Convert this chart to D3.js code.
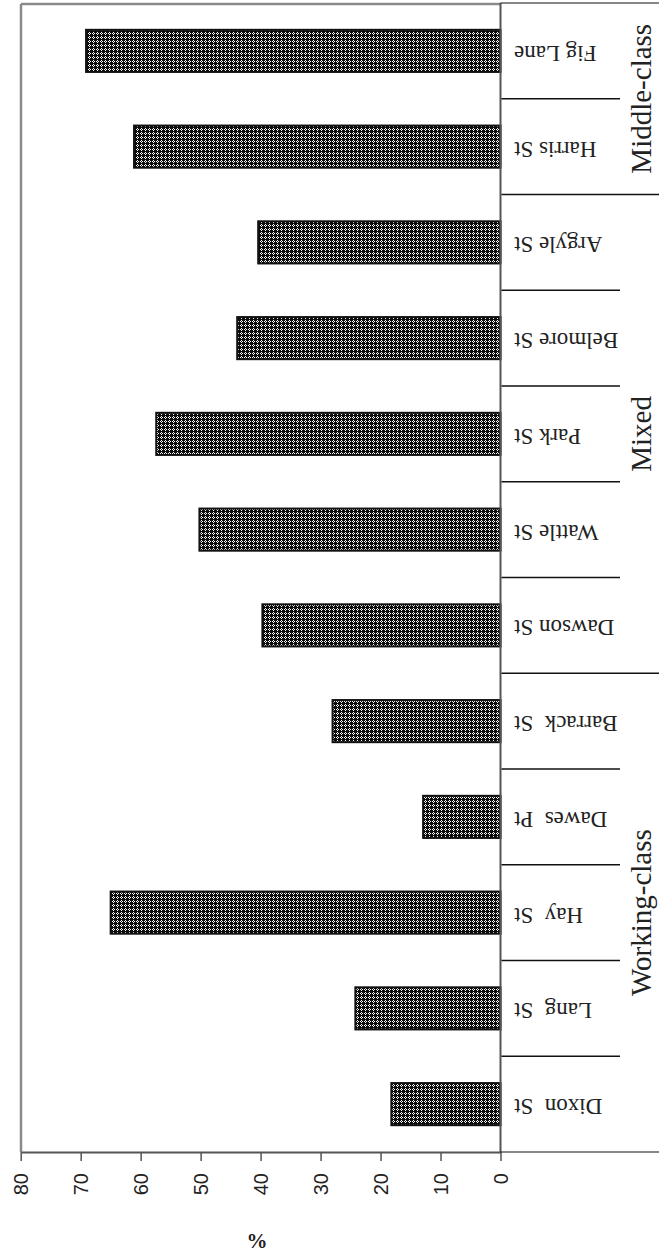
<!DOCTYPE html>
<html>
<head>
<meta charset="utf-8">
<script src="https://cdn.jsdelivr.net/npm/d3@7"></script>
<style>
  html, body { margin: 0; padding: 0; background: #fff; }
  svg { display: block; }
  text { white-space: pre; }
</style>
</head>
<body>
<svg id="chart" width="659" height="1258"></svg>
<script>
// ---- data ----
const categories = ["Fig Lane", "Harris St", "Argyle St", "Belmore St", "Park St", "Wattle St",
                    "Dawson St", "Barrack  St", "Dawes  Pt", "Hay  St", "Lang  St", "Dixon  St"];
const values = [69.1, 61.1, 40.4, 43.9, 57.4, 50.2, 39.7, 28.0, 12.9, 65.0, 24.2, 18.2];
const groupNames = ["Middle-class", "Mixed", "Working-class"];
const groupSizes = [2, 5, 5];
const tickValues = [0, 10, 20, 30, 40, 50, 60, 70, 80];
const unitLabel = "%";

// ---- layout ----
const svg = d3.select("#chart");
const plotLeft = 21, plotTop = 3, axisX = 500.5, axisY = 1152;

const x = d3.scaleLinear().domain([0, 80]).range([axisX, 20.7]);
const y = d3.scaleBand().domain(categories).range([plotTop, axisY])
  .paddingInner(0.56).paddingOuter(0.28);
const step = y.step();

// pattern
const defs = svg.append("defs");
const pat = defs.append("pattern").attr("id", "dots")
  .attr("width", 4).attr("height", 4).attr("patternUnits", "userSpaceOnUse");
pat.append("rect").attr("width", 4).attr("height", 4).attr("fill", "#0d0d0d");
[[1,0],[0,1],[2,1],[1,2]].forEach(([px,py]) =>
  pat.append("rect").attr("x", px).attr("y", py).attr("width", 1).attr("height", 1).attr("fill", "#fff"));

// plot frame (gray)
svg.append("line").attr("x1", plotLeft).attr("x2", plotLeft).attr("y1", plotTop + 1).attr("y2", axisY)
  .attr("stroke", "#8a8a8a").attr("stroke-width", 2.5);
svg.append("line").attr("x1", plotLeft).attr("x2", axisX).attr("y1", plotTop + 1).attr("y2", plotTop + 1)
  .attr("stroke", "#8a8a8a").attr("stroke-width", 2.5);

// bars
svg.append("g").selectAll("rect").data(categories).join("rect")
  .attr("x", (d, i) => x(values[i]))
  .attr("y", d => y(d))
  .attr("width", (d, i) => x(0) - x(values[i]))
  .attr("height", y.bandwidth())
  .attr("fill", "url(#dots)")
  .attr("stroke", "#111").attr("stroke-width", 2);

// category axis line (vertical at zero)
svg.append("line").attr("x1", axisX).attr("x2", axisX).attr("y1", plotTop).attr("y2", axisY)
  .attr("stroke", "#555").attr("stroke-width", 2);

// value axis
const xAxis = d3.axisBottom(x).tickValues(tickValues).tickSize(9).tickSizeOuter(0);
const gx = svg.append("g").attr("transform", `translate(0,${axisY})`).call(xAxis);
gx.select(".domain").attr("stroke", "#555").attr("stroke-width", 2);
gx.selectAll(".tick line").attr("stroke", "#555").attr("stroke-width", 1.5);
gx.selectAll(".tick text")
  .attr("font-family", "'Liberation Sans', Arial, sans-serif")
  .attr("font-size", 20).attr("fill", "#222")
  .attr("text-anchor", "end")
  .attr("y", 0).attr("dy", "0.35em")
  .attr("transform", "translate(0,21) rotate(-90)");

// extension lines of category area
svg.append("line").attr("x1", axisX).attr("x2", 659).attr("y1", axisY).attr("y2", axisY)
  .attr("stroke", "#111").attr("stroke-width", 1.2);
svg.append("line").attr("x1", axisX).attr("x2", 659).attr("y1", plotTop).attr("y2", plotTop)
  .attr("stroke", "#111").attr("stroke-width", 1.2);

// category dividers
const groupStarts = [];
let acc = 0;
groupSizes.forEach(s => { groupStarts.push(acc); acc += s; });
categories.forEach((c, i) => {
  if (i === 0) return;
  const yb = y(c) + y.bandwidth() / 2 - step / 2;
  const isGroup = groupStarts.includes(i);
  svg.append("line").attr("x1", axisX + 1).attr("x2", isGroup ? 659 : 620)
    .attr("y1", yb).attr("y2", yb).attr("stroke", "#111").attr("stroke-width", 1.3);
});

// category labels (upside-down)
svg.append("g").selectAll("text").data(categories).join("text")
  .attr("transform", d => `translate(514,${y(d) + y.bandwidth() / 2}) rotate(180)`)
  .attr("y", 5)
  .attr("text-anchor", "end")
  .attr("font-family", "'Liberation Serif', 'Times New Roman', serif")
  .attr("font-size", 23).attr("fill", "#222")
  .text(d => d);

// group labels
groupNames.forEach((g, gi) => {
  const first = categories[groupStarts[gi]];
  const last = categories[groupStarts[gi] + groupSizes[gi] - 1];
  const y0 = y(first) + y.bandwidth() / 2 - step / 2;
  const y1 = y(last) + y.bandwidth() / 2 + step / 2;
  svg.append("text")
    .attr("transform", `translate(651,${(y0 + y1) / 2}) rotate(-90)`)
    .attr("text-anchor", "middle")
    .attr("font-family", "'Liberation Serif', 'Times New Roman', serif")
    .attr("font-size", 29).attr("fill", "#222")
    .text(g);
});

// unit label
svg.append("text").attr("x", 257).attr("y", 1248)
  .attr("text-anchor", "middle")
  .attr("font-family", "'Liberation Serif', 'Times New Roman', serif")
  .attr("font-weight", "bold").attr("font-size", 21).attr("fill", "#222")
  .text(unitLabel);
</script>
</body>
</html>
